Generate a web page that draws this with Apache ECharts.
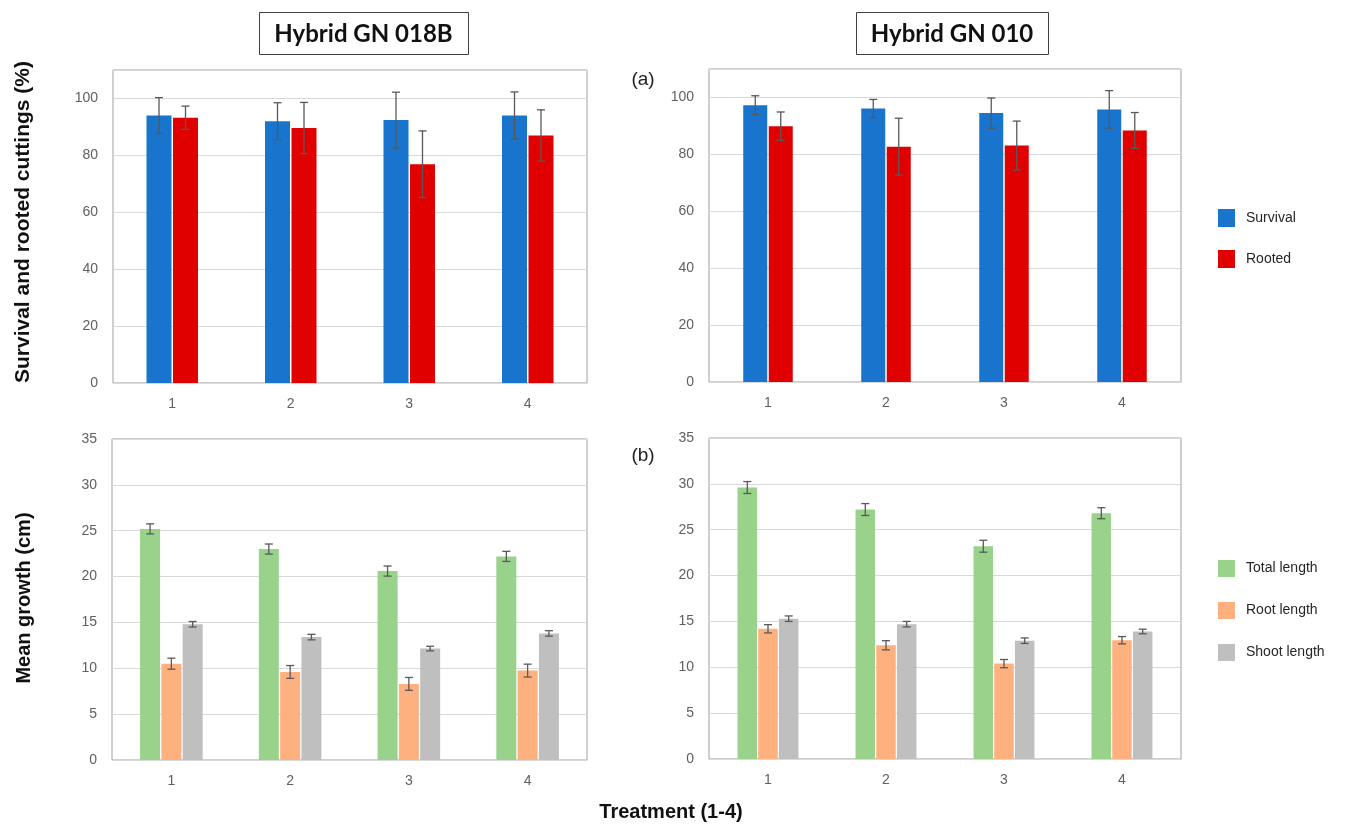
<!DOCTYPE html>
<html>
<head>
<meta charset="utf-8">
<script src="https://cdn.jsdelivr.net/npm/echarts@6/dist/echarts.min.js"></script>
<style>
html,body{margin:0;padding:0;background:#fff;}
#chart{width:1346px;height:829px;}
</style>
</head>
<body>
<div id="chart"></div>
<script>
const categories = ['1', '2', '3', '4'];
const hybrids = ['Hybrid GN 018B', 'Hybrid GN 010'];

// (a) Survival and rooted cuttings (%)
const survival018B    = [94.0, 92.0, 92.4, 94.0];
const survival018BErr = [6.3, 6.5, 9.8, 8.3];
const rooted018B      = [93.2, 89.6, 76.9, 87.0];
const rooted018BErr   = [4.1, 9.0, 11.7, 9.0];
const survival010     = [97.3, 96.1, 94.5, 95.8];
const survival010Err  = [3.3, 3.2, 5.3, 6.6];
const rooted010       = [89.9, 82.7, 83.1, 88.4];
const rooted010Err    = [5.0, 10.0, 8.6, 6.3];

// (b) Mean growth (cm)
const total018B    = [25.2, 23.0, 20.6, 22.2];
const total018BErr = [0.55, 0.55, 0.55, 0.55];
const root018B     = [10.5, 9.6, 8.3, 9.75];
const root018BErr  = [0.6, 0.7, 0.7, 0.7];
const shoot018B    = [14.8, 13.4, 12.15, 13.8];
const shoot018BErr = [0.3, 0.3, 0.25, 0.3];
const total010     = [29.6, 27.2, 23.2, 26.8];
const total010Err  = [0.65, 0.65, 0.65, 0.6];
const root010      = [14.2, 12.4, 10.4, 12.95];
const root010Err   = [0.45, 0.5, 0.45, 0.4];
const shoot010     = [15.3, 14.7, 12.9, 13.9];
const shoot010Err  = [0.3, 0.3, 0.3, 0.25];

const seriesNamesA = ['Survival', 'Rooted'];
const seriesNamesB = ['Total length', 'Root length', 'Shoot length'];

const COLORS = {
  'Survival': '#1874cd',
  'Rooted': '#e00000',
  'Total length': '#98d28b',
  'Root length': '#ffb07f',
  'Shoot length': '#bfbfbf'
};
const FONT = '"Liberation Sans", Arial, sans-serif';
const LABEL_COLOR = '#606060';

const grids = [
  {left: 113, right: 759, top: 70, height: 313},
  {left: 709, right: 165, top: 69, height: 313},
  {left: 112, right: 759, top: 439, height: 321},
  {left: 709, right: 165, top: 438, height: 321}
].map(g => Object.assign({show: true, borderColor: '#a0a0a0', borderWidth: 1, backgroundColor: '#fff'}, g));

const xAxes = grids.map((g, i) => ({
  type: 'category', gridIndex: i, data: categories,
  axisLine: {show: true, lineStyle: {color: '#d9d9d9'}},
  axisTick: {show: false},
  axisLabel: {color: LABEL_COLOR, fontSize: 14, fontFamily: FONT, margin: 14}
}));

const yAxes = grids.map((g, i) => {
  const top = i < 2;
  return {
    type: 'value', gridIndex: i, min: 0, max: top ? 110 : 35, interval: top ? 20 : 5,
    axisLine: {show: false}, axisTick: {show: false},
    splitLine: {lineStyle: {color: '#d9d9d9', width: 1}},
    axisLabel: {color: LABEL_COLOR, fontSize: 14, fontFamily: FONT, margin: 15, showMaxLabel: !top}
  };
});

const panels = [
  {grid: 0, names: seriesNamesA, vals: [survival018B, rooted018B], errs: [survival018BErr, rooted018BErr], barW: 25, gap: 1.5},
  {grid: 1, names: seriesNamesA, vals: [survival010, rooted010], errs: [survival010Err, rooted010Err], barW: 24, gap: 1.5},
  {grid: 2, names: seriesNamesB, vals: [total018B, root018B, shoot018B], errs: [total018BErr, root018BErr, shoot018BErr], barW: 20, gap: 1.3},
  {grid: 3, names: seriesNamesB, vals: [total010, root010, shoot010], errs: [total010Err, root010Err, shoot010Err], barW: 19.5, gap: 1.2}
];

const series = [];
panels.forEach(p => {
  const n = p.names.length;
  p.names.forEach((name, k) => {
    series.push({
      type: 'bar', name: name, xAxisIndex: p.grid, yAxisIndex: p.grid,
      data: p.vals[k], barWidth: p.barW, barGap: (p.gap / p.barW * 100).toFixed(1) + '%',
      itemStyle: {color: COLORS[name]}, z: 2
    });
  });
  p.names.forEach((name, k) => {
    const offset = (k - (n - 1) / 2) * (p.barW + p.gap);
    series.push({
      type: 'custom', name: name + ' error', xAxisIndex: p.grid, yAxisIndex: p.grid,
      data: p.vals[k].map((v, j) => [j, v, p.errs[k][j]]),
      encode: {x: 0, y: 1},
      z: 5, silent: true,
      renderItem: function (params, api) {
        const c = api.value(0), v = api.value(1), e = api.value(2);
        const hi = api.coord([c, v + e]);
        const lo = api.coord([c, v - e]);
        const x = hi[0] + offset;
        const cap = 4;
        const st = {stroke: '#595959', lineWidth: 1.3};
        return {
          type: 'group',
          children: [
            {type: 'line', shape: {x1: x, y1: hi[1], x2: x, y2: lo[1]}, style: st},
            {type: 'line', shape: {x1: x - cap, y1: hi[1], x2: x + cap, y2: hi[1]}, style: st},
            {type: 'line', shape: {x1: x - cap, y1: lo[1], x2: x + cap, y2: lo[1]}, style: st}
          ]
        };
      }
    });
  });
});

const legendCommon = {
  orient: 'vertical', left: 1218, itemWidth: 17, itemHeight: 18, padding: 0,
  icon: 'rect', selectedMode: false,
  textStyle: {fontSize: 14, fontFamily: FONT, color: '#262626', padding: [0, 0, 0, 6]}
};

const titleBoxes = [
  {x: 259, y: 12, w: 209, h: 42, text: hybrids[0]},
  {x: 856, y: 12, w: 192, h: 42, text: hybrids[1]}
];

const graphics = [];
titleBoxes.forEach(b => {
  graphics.push({type: 'rect', left: b.x, top: b.y, shape: {width: b.w, height: b.h},
    style: {fill: '#fff', stroke: '#404040', lineWidth: 1}});
  graphics.push({type: 'text', x: b.x + b.w / 2, y: b.y + b.h / 2 + 1,
    style: {text: b.text, font: 'bold 24px Lato, "Open Sans", sans-serif', fill: '#111',
      textAlign: 'center', textVerticalAlign: 'middle'}});
});
graphics.push({type: 'text', x: 643, y: 80, style: {text: '(a)', font: '19px ' + FONT, fill: '#222', textAlign: 'center', textVerticalAlign: 'middle'}});
graphics.push({type: 'text', x: 643, y: 456, style: {text: '(b)', font: '19px ' + FONT, fill: '#222', textAlign: 'center', textVerticalAlign: 'middle'}});
graphics.push({type: 'text', x: 23, y: 222, rotation: Math.PI / 2,
  style: {text: 'Survival and rooted cuttings (%)', font: 'bold 21px ' + FONT, fill: '#111', textAlign: 'center', textVerticalAlign: 'middle'}});
graphics.push({type: 'text', x: 24, y: 598, rotation: Math.PI / 2,
  style: {text: 'Mean growth (cm)', font: 'bold 20px ' + FONT, fill: '#111', textAlign: 'center', textVerticalAlign: 'middle'}});
graphics.push({type: 'text', x: 671, y: 812,
  style: {text: 'Treatment (1-4)', font: 'bold 20px ' + FONT, fill: '#111', textAlign: 'center', textVerticalAlign: 'middle'}});

const chart = echarts.init(document.getElementById('chart'), null, {renderer: 'canvas'});
chart.setOption({
  animation: false,
  backgroundColor: '#fff',
  grid: grids,
  xAxis: xAxes,
  yAxis: yAxes,
  legend: [
    Object.assign({}, legendCommon, {top: 209, itemGap: 23, data: seriesNamesA}),
    Object.assign({}, legendCommon, {top: 560, itemGap: 25, itemHeight: 17, data: seriesNamesB})
  ],
  series: series,
  graphic: graphics
});
</script>
</body>
</html>
